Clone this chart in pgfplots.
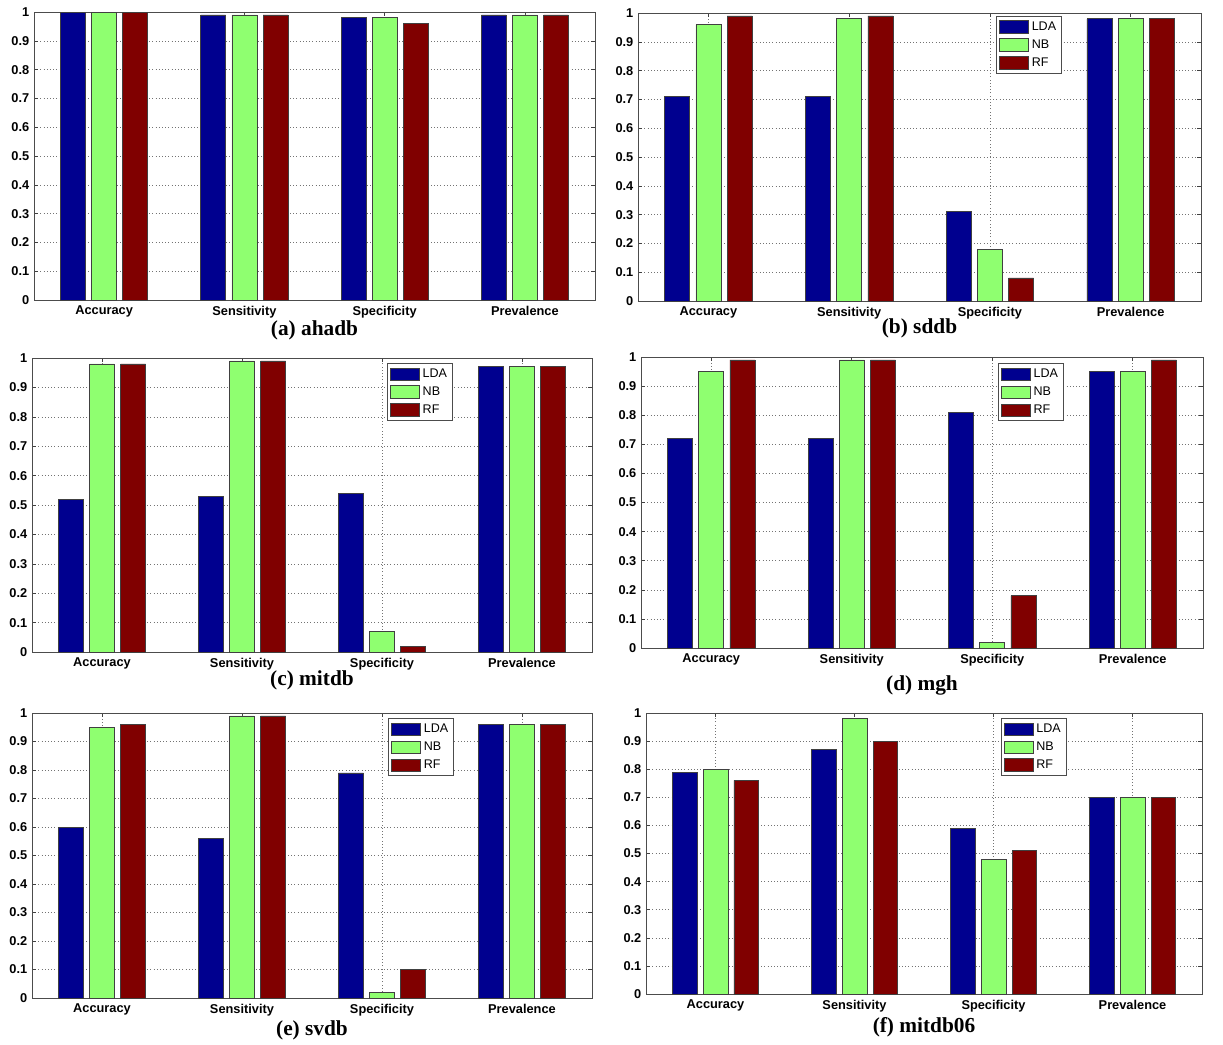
\documentclass[border=0pt]{standalone}
\usepackage{fontspec}
\setmainfont{Liberation Sans}
\newfontfamily\capfont{Liberation Serif}
\usepackage{pgfplots}
\pgfplotsset{compat=1.18}
\definecolor{cLDA}{rgb}{0,0,0.5625}
\definecolor{cNB}{rgb}{0.5625,1,0.4375}
\definecolor{cRF}{rgb}{0.5,0,0}
\pgfplotsset{
  mystyle/.style={
    scale only axis, ybar, ymin=0, ymax=1, xmin=0.5, xmax=4.5,
    xtick={1,2,3,4}, xticklabels={Accuracy,Sensitivity,Specificity,Prevalence},
    ytick={0,0.1,0.2,0.3,0.4,0.5,0.6,0.7,0.8,0.9,1},
    grid=major, major grid style={dotted, black!55, line width=0.45pt},
    tick align=inside, major tick length=3pt,
    tick style={black!75, line width=0.45pt},
    axis line style={black!70, line width=0.6pt},
    tick label style={font=\bfseries\fontsize{9.6}{10}\selectfont},
    xticklabel style={yshift=-1pt},
    /pgf/number format/assume math mode=true,
    yticklabel style={/pgf/number format/fixed, /pgf/number format/precision=1},
    bar width=0.178,
    clip=false,
    legend cell align=left,
    legend image code/.code={\draw[##1] (0pt,-4.6pt) rectangle (22pt,4.6pt);},
    legend style={font=\fontsize{9.4}{10}\selectfont, draw=black!70, line width=0.5pt,
      inner sep=2pt, row sep=1.5pt, anchor=north west,
      /tikz/every even column/.append style={column sep=2pt}},
  },
  lda/.style={fill=cLDA, draw=black!75, line width=0.5pt, bar shift=-0.222},
  nb/.style={fill=cNB, draw=black!75, line width=0.5pt, bar shift=0},
  rf/.style={fill=cRF, draw=black!75, line width=0.5pt, bar shift=0.222},
}
\newcommand{\subcap}[2]{\node[font=\capfont\bfseries\fontsize{16}{18}\selectfont] at (rel axis cs:0.5,0) [yshift=#1] {#2};}
\begin{document}
\begin{tikzpicture}
\path (0,0) rectangle (917.25pt,-781.5pt);
% (a)
\begin{axis}[mystyle, at={(25.5pt,-225pt)}, anchor=south west, width=420.75pt, height=216pt]
\addplot[lda] coordinates {(1,1) (2,0.99) (3,0.98) (4,0.99)};
\addplot[nb] coordinates {(1,1) (2,0.99) (3,0.98) (4,0.99)};
\addplot[rf] coordinates {(1,1) (2,0.99) (3,0.96) (4,0.99)};
\subcap{-22.5pt}{(a) ahadb}
\end{axis}
% (b)
\begin{axis}[mystyle, at={(478.5pt,-225.75pt)}, anchor=south west, width=422.25pt, height=216pt,
  legend style={at={(0.636,0.99)}}]
\addplot[lda] coordinates {(1,0.71) (2,0.71) (3,0.31) (4,0.98)};
\addplot[nb] coordinates {(1,0.96) (2,0.98) (3,0.18) (4,0.98)};
\addplot[rf] coordinates {(1,0.99) (2,0.99) (3,0.08) (4,0.98)};
\legend{LDA,NB,RF}
\subcap{-20.25pt}{(b) sddb}
\end{axis}
% (c)
\begin{axis}[mystyle, at={(24pt,-489pt)}, anchor=south west, width=420pt, height=220.5pt,
  legend style={at={(0.634,0.983)}}]
\addplot[lda] coordinates {(1,0.52) (2,0.53) (3,0.54) (4,0.97)};
\addplot[nb] coordinates {(1,0.98) (2,0.99) (3,0.07) (4,0.97)};
\addplot[rf] coordinates {(1,0.98) (2,0.99) (3,0.02) (4,0.97)};
\legend{LDA,NB,RF}
\subcap{-21pt}{(c) mitdb}
\end{axis}
% (d)
\begin{axis}[mystyle, at={(480.75pt,-486pt)}, anchor=south west, width=421.5pt, height=218.25pt,
  legend style={at={(0.635,0.979)}}]
\addplot[lda] coordinates {(1,0.72) (2,0.72) (3,0.81) (4,0.95)};
\addplot[nb] coordinates {(1,0.95) (2,0.99) (3,0.02) (4,0.95)};
\addplot[rf] coordinates {(1,0.99) (2,0.99) (3,0.18) (4,0.99)};
\legend{LDA,NB,RF}
\subcap{-27.75pt}{(d) mgh}
\end{axis}
% (e)
\begin{axis}[mystyle, at={(24pt,-748.5pt)}, anchor=south west, width=420pt, height=213.75pt,
  legend style={at={(0.636,0.982)}}]
\addplot[lda] coordinates {(1,0.60) (2,0.56) (3,0.79) (4,0.96)};
\addplot[nb] coordinates {(1,0.95) (2,0.99) (3,0.02) (4,0.96)};
\addplot[rf] coordinates {(1,0.96) (2,0.99) (3,0.10) (4,0.96)};
\legend{LDA,NB,RF}
\subcap{-24pt}{(e) svdb}
\end{axis}
% (f)
\begin{axis}[mystyle, at={(484.5pt,-745.5pt)}, anchor=south west, width=417pt, height=210.75pt,
  legend style={at={(0.638,0.982)}}]
\addplot[lda] coordinates {(1,0.79) (2,0.87) (3,0.59) (4,0.70)};
\addplot[nb] coordinates {(1,0.80) (2,0.98) (3,0.48) (4,0.70)};
\addplot[rf] coordinates {(1,0.76) (2,0.90) (3,0.51) (4,0.70)};
\legend{LDA,NB,RF}
\subcap{-24.75pt}{(f) mitdb06}
\end{axis}
\end{tikzpicture}
\end{document}
